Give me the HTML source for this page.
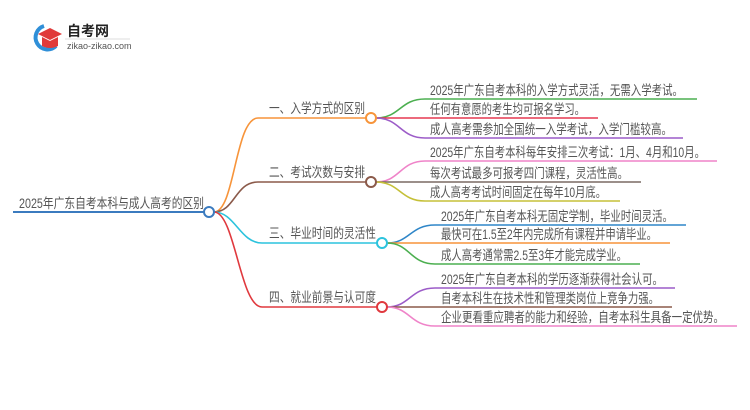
<!DOCTYPE html>
<html><head><meta charset="utf-8"><style>
html,body{margin:0;padding:0;background:#fff;}
svg{display:block;}
text{font-family:"Liberation Sans","Noto Sans CJK SC",sans-serif;fill:#555;font-size:13.5px;}
</style></head><body>
<svg width="750" height="410" viewBox="0 0 750 410" xmlns="http://www.w3.org/2000/svg">
<!-- logo -->
<path d="M44 26 A12 12 0 1 0 56 46" fill="none" stroke="#2f8fd8" stroke-width="4"/>
<path d="M38 34 L50 28 L62 34 L50 40 Z" fill="#e03a3a"/>
<path d="M42 37 L42 46 Q50 50 58 46 L58 37 L50 41 Z" fill="#e03a3a"/>
<text x="67" y="36" style="font-size:14px;font-weight:bold;fill:#222">自考网</text>
<line x1="65" y1="39" x2="130" y2="39" stroke="#ddd" stroke-width="1"/>
<text x="67" y="49" style="font-size:9px;fill:#555">zikao-zikao.com</text>

<!-- root -->
<line x1="13" y1="212" x2="204" y2="212" stroke="#3b7bbf" stroke-width="2"/>
<text x="19" y="208" textLength="185" lengthAdjust="spacingAndGlyphs">2025年广东自考本科与成人高考的区别</text>

<!-- branches -->
<g fill="none" stroke-width="1.6">
<path d="M214 212 C235 212,235 118,258 118 L366 118" stroke="#f7943a"/>
<path d="M214 212 C235 212,235 182,258 182 L366 182" stroke="#8b5a4a"/>
<path d="M214 212 C235 212,240 243,262 243 L377 243" stroke="#2cc3dd"/>
<path d="M214 212 C235 212,240 307,262 307 L377 307" stroke="#e0393e"/>
</g>
<text x="269" y="113" textLength="96" lengthAdjust="spacingAndGlyphs">一、入学方式的区别</text>
<text x="269" y="177" textLength="96" lengthAdjust="spacingAndGlyphs">二、考试次数与安排</text>
<text x="269" y="238" textLength="107" lengthAdjust="spacingAndGlyphs">三、毕业时间的灵活性</text>
<text x="269" y="302" textLength="107" lengthAdjust="spacingAndGlyphs">四、就业前景与认可度</text>

<!-- leaves -->
<g fill="none" stroke-width="1.6">
<path d="M376 118 C400 118,400 99,425 99 L697 99" stroke="#4caf50"/>
<path d="M376 118 L598 118" stroke="#e53950"/>
<path d="M376 118 C400 118,400 138,425 138 L683 138" stroke="#9c5cc8"/>
<path d="M376 182 C400 182,400 161,425 161 L717 161" stroke="#ef84c9"/>
<path d="M376 182 L641 182" stroke="#7a6a64"/>
<path d="M376 182 C400 182,400 201,425 201 L620 201" stroke="#c5c038"/>
<path d="M387 243 C410 243,410 225,435 225 L686 225" stroke="#2f86c8"/>
<path d="M387 243 L670 243" stroke="#f7943a"/>
<path d="M387 243 C410 243,410 264,435 264 L640 264" stroke="#4caf50"/>
<path d="M387 307 C410 307,410 288,435 288 L675 288" stroke="#9c5cc8"/>
<path d="M387 307 L672 307" stroke="#8b5a4a"/>
<path d="M387 307 C410 307,410 326,435 326 L737 326" stroke="#ef84c9"/>
</g>
<g>
<circle cx="209" cy="212" r="5" fill="#fff" stroke="#3b7bbf" stroke-width="2"/>
<circle cx="371" cy="118" r="5" fill="#fff" stroke="#f7943a" stroke-width="2"/>
<circle cx="371" cy="182" r="5" fill="#fff" stroke="#8b5a4a" stroke-width="2"/>
<circle cx="382" cy="243" r="5" fill="#fff" stroke="#2cc3dd" stroke-width="2"/>
<circle cx="382" cy="307" r="5" fill="#fff" stroke="#e0393e" stroke-width="2"/>
</g>
<text x="430" y="95" textLength="253" lengthAdjust="spacingAndGlyphs">2025年广东自考本科的入学方式灵活，无需入学考试。</text>
<text x="430" y="114" textLength="155" lengthAdjust="spacingAndGlyphs">任何有意愿的考生均可报名学习。</text>
<text x="430" y="134" textLength="242" lengthAdjust="spacingAndGlyphs">成人高考需参加全国统一入学考试，入学门槛较高。</text>
<text x="430" y="157" textLength="275" lengthAdjust="spacingAndGlyphs">2025年广东自考本科每年安排三次考试：1月、4月和10月。</text>
<text x="430" y="178" textLength="198" lengthAdjust="spacingAndGlyphs">每次考试最多可报考四门课程，灵活性高。</text>
<text x="430" y="197" textLength="176" lengthAdjust="spacingAndGlyphs">成人高考考试时间固定在每年10月底。</text>
<text x="441" y="221" textLength="232" lengthAdjust="spacingAndGlyphs">2025年广东自考本科无固定学制，毕业时间灵活。</text>
<text x="441" y="239" textLength="216" lengthAdjust="spacingAndGlyphs">最快可在1.5至2年内完成所有课程并申请毕业。</text>
<text x="441" y="260" textLength="186" lengthAdjust="spacingAndGlyphs">成人高考通常需2.5至3年才能完成学业。</text>
<text x="441" y="284" textLength="222" lengthAdjust="spacingAndGlyphs">2025年广东自考本科的学历逐渐获得社会认可。</text>
<text x="441" y="303" textLength="218" lengthAdjust="spacingAndGlyphs">自考本科生在技术性和管理类岗位上竞争力强。</text>
<text x="441" y="322" textLength="283" lengthAdjust="spacingAndGlyphs">企业更看重应聘者的能力和经验，自考本科生具备一定优势。</text>
</svg>
</body></html>
